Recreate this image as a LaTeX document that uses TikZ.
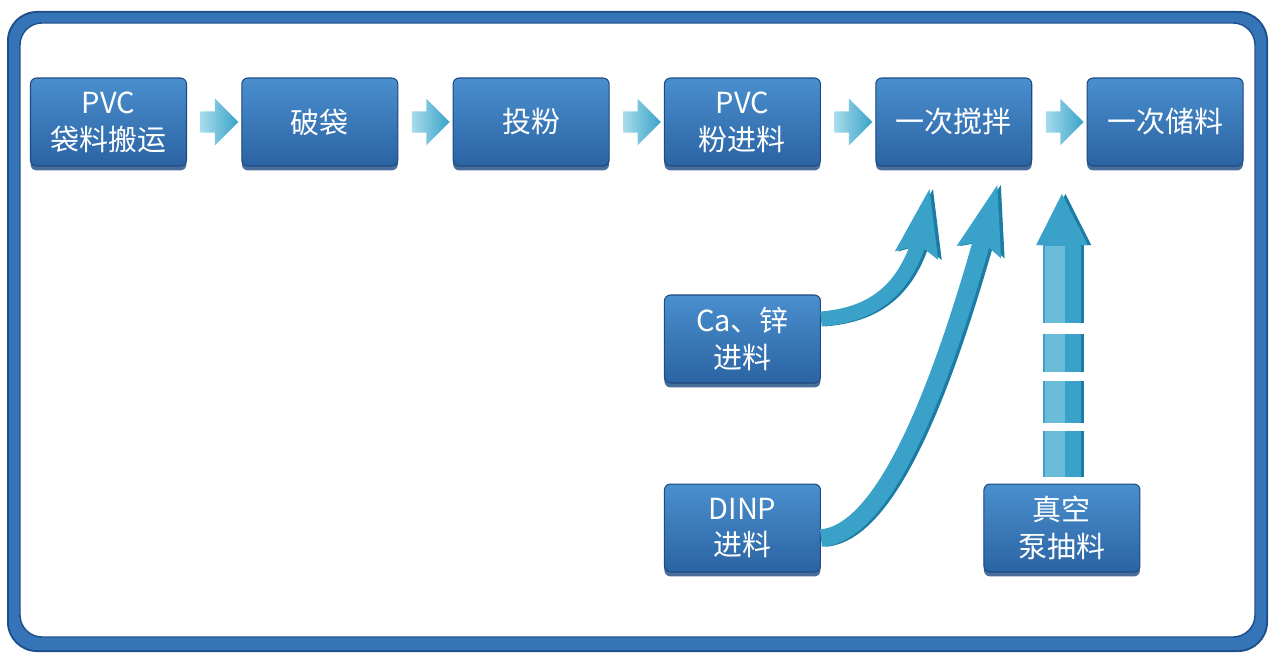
\documentclass[tikz,border=0pt]{standalone}
\usepackage{fontspec}
\usepackage{tikz}
\usepackage{xcolor}
\usetikzlibrary{shapes, calc, arrows.meta, positioning, shadows, bending}
\newfontfamily\cjk{Noto Sans CJK SC}
\definecolor{boxtop}{HTML}{4A8FCE}
\definecolor{boxbot}{HTML}{2B63A3}
\definecolor{boxedge}{HTML}{1D4A82}
\definecolor{framemid}{HTML}{3574B6}
\definecolor{framedark}{HTML}{1E4F8C}
\definecolor{arrlight}{HTML}{A6DCEC}
\definecolor{arrmid}{HTML}{3AA2C8}
\definecolor{arrdark}{HTML}{1D7CA3}

\begin{document}
\begin{tikzpicture}[x=0.02cm, y=-0.02cm]

    \tikzset{feedline/.style={draw=arrmid, line cap=butt}}
    \tikzset{feedshade/.style={draw=arrdark, line cap=butt}}
    \tikzset{feedlight/.style={draw=arrlight!45!arrmid, line cap=butt}}
    \tikzstyle{stepbox}=[draw=boxedge, line width=0.6pt, rounded corners=0.12cm,
      top color=boxtop, bottom color=boxbot, minimum width=3.12cm, minimum height=1.76cm,
      inner sep=0pt, align=center, text=white, font=\cjk\fontsize{16.5}{21}\selectfont,
      drop shadow={shadow xshift=0pt, shadow yshift=-2.5pt, fill=boxedge, opacity=0.8}]
    \tikzstyle{flow}=[single arrow, draw=none, left color=arrlight, right color=arrmid,
      minimum height=21.5pt, minimum width=26.6pt, single arrow head extend=6pt,
      inner xsep=0pt, inner ysep=4.8pt]

    \useasboundingbox (0,0) rectangle (1280,665);

    \fill[framedark, rounded corners=0.6cm] (7,11) rectangle (1268,652);
    \fill[framemid, rounded corners=0.56cm] (9,13) rectangle (1266,650);
    \fill[white, rounded corners=0.44cm] (20,23) rectangle (1255,637);
    \draw[framedark, line width=0.8pt, rounded corners=0.44cm] (20,23) rectangle (1255,637);

    \node[stepbox] (carry) at (108.5,122) {PVC\\袋料搬运};
    \node[stepbox, right=1.086cm of carry] (breakbag) {破袋};
    \node[stepbox, right=1.086cm of breakbag] (feed) {投粉};
    \node[stepbox, right=1.086cm of feed] (pvcin) {PVC\\粉进料};
    \node[stepbox, right=1.086cm of pvcin] (mix) {一次搅拌};
    \node[stepbox, right=1.086cm of mix] (store) {一次储料};

    \node[stepbox, below=2.56cm of pvcin] (caz) {Ca、锌\\进料};
    \node[stepbox, below=2.0cm of caz] (dinp) {DINP\\进料};
    \node[stepbox, right=3.25cm of dinp] (vac) {真空\\泵抽料};

    \foreach \a/\b in {carry/breakbag, breakbag/feed, feed/pvcin, pvcin/mix, mix/store}
      \node[flow] (f-\a) at ($(\a.east)!0.5!(\b.west)$) {};

    \coordinate (catip) at ($(mix.south)+(-24,21)$);
    \coordinate (dinptip) at ($(mix.south)+(44,17)$);
    \coordinate (vacfoot) at ($(vac.north)+(0,-7)$);
    \coordinate (vactip) at ($(vac.north)+(0,-291)$);

    \begin{scope}[transform canvas={xshift=2pt}]
    \draw[feedshade, line width=8.5pt, -{Stealth[length=38pt, width=23pt, inset=5pt]}]
      ($(caz.east)+(0,-20)$) .. controls +(60,-5) and +(-10,95) .. (catip);
    \draw[feedshade, line width=10pt, -{Stealth[length=39pt, width=24pt, inset=5pt]}]
      ($(dinp.east)+(0,10)$) .. controls +(75,-5) and +(-40,150) .. (dinptip);
    \draw[feedshade, line width=21.5pt,
      dash pattern=on 26pt off 4.5pt on 23.8pt off 5pt on 22pt off 6.2pt on 100pt off 1pt,
      -{Triangle[length=30pt, width=27pt]}] (vacfoot) -- (vactip);
    \end{scope}

    \draw[feedline, line width=8.5pt, -{Stealth[length=38pt, width=23pt, inset=5pt]}]
      ($(caz.east)+(0,-20)$) .. controls +(60,-5) and +(-10,95) .. (catip);
    \draw[feedline, line width=10pt, -{Stealth[length=39pt, width=24pt, inset=5pt]}]
      ($(dinp.east)+(0,10)$) .. controls +(75,-5) and +(-40,150) .. (dinptip);
    \draw[feedline, line width=21.5pt,
      dash pattern=on 26pt off 4.5pt on 23.8pt off 5pt on 22pt off 6.2pt on 100pt off 1pt,
      -{Triangle[length=30pt, width=27pt]}] (vacfoot) -- (vactip);

    \begin{scope}[transform canvas={xshift=-4pt}]
    \draw[feedlight, line width=11pt,
      dash pattern=on 26pt off 4.5pt on 23.8pt off 5pt on 22pt off 6.2pt on 100pt off 1pt]
      (vacfoot) -- ($(vactip)+(0,53)$);
    \end{scope}

\end{tikzpicture}
\end{document}
